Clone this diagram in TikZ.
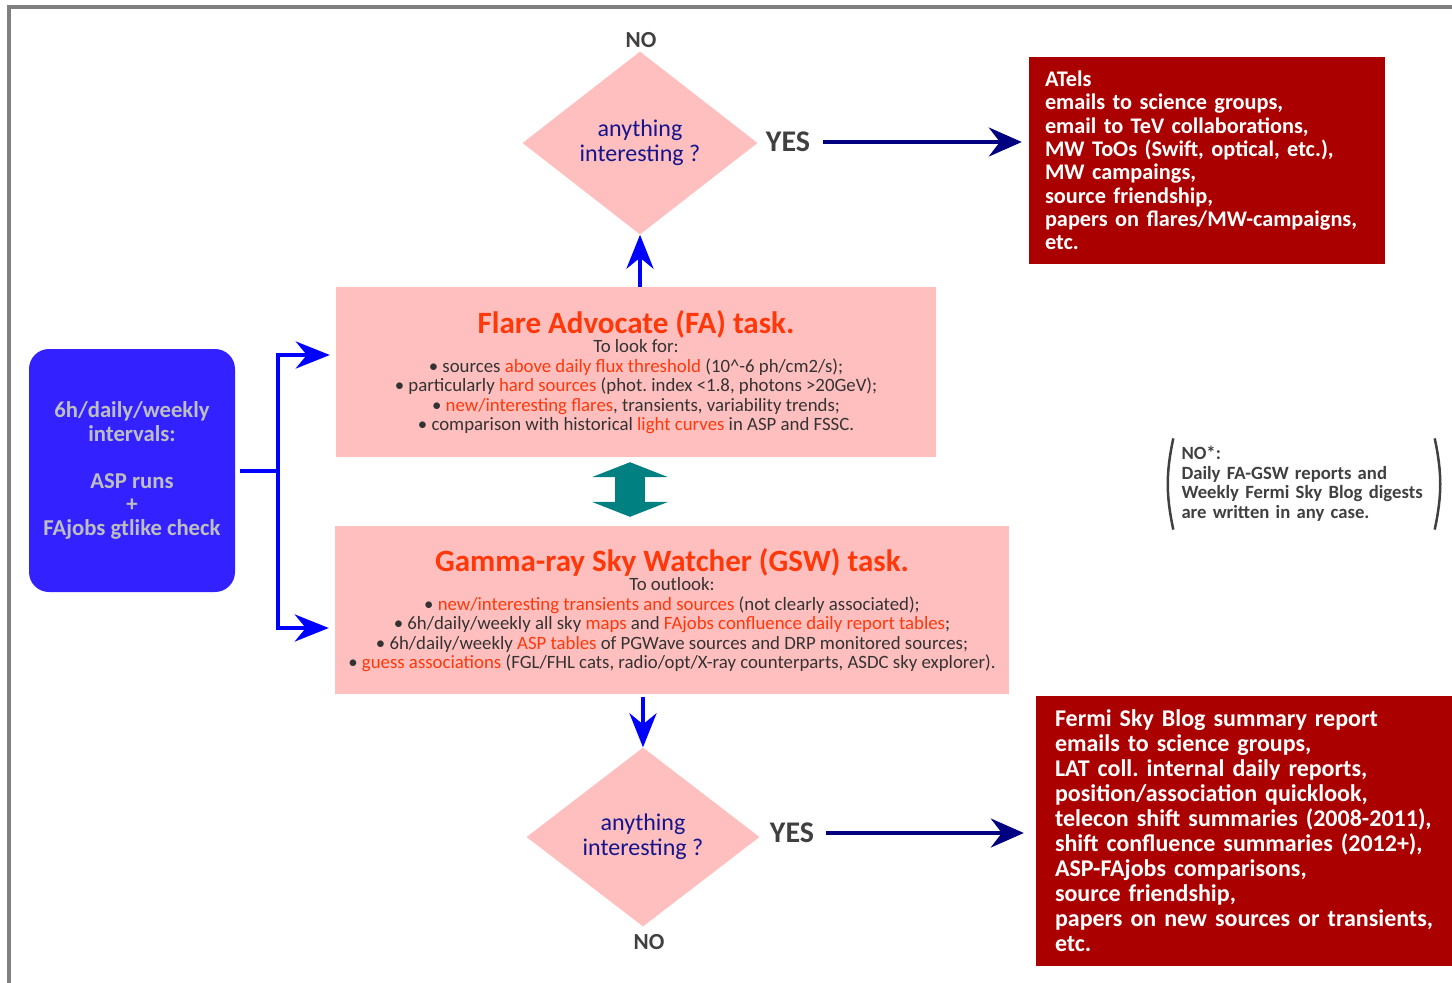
\documentclass[tikz,border=0pt]{standalone}
\usepackage{fontspec}
\setmainfont{Carlito}
\usetikzlibrary{calc, arrows.meta, shapes.geometric}
\definecolor{pinkbox}{RGB}{255,191,191}
\definecolor{hot}{RGB}{255,56,10}
\definecolor{bodygray}{RGB}{51,51,51}
\definecolor{answergray}{RGB}{64,64,64}
\definecolor{navytext}{RGB}{20,20,140}
\definecolor{darkred}{RGB}{170,0,0}
\definecolor{srcblue}{RGB}{51,34,255}
\definecolor{srctext}{RGB}{190,190,190}
\definecolor{flowblue}{RGB}{0,0,255}
\definecolor{yesnavy}{RGB}{0,0,128}
\definecolor{framegray}{RGB}{128,128,128}
\definecolor{swapteal}{RGB}{0,128,128}
\newcommand{\orng}[1]{\textcolor{hot}{#1}}
\frenchspacing

\begin{document}
\begin{tikzpicture}[x=1pt, y=-1pt,
    task/.style={fill=pinkbox, align=center, text=bodygray, inner sep=0pt,
        font=\fontsize{18.8}{19.5}\selectfont},
    decision/.style={diamond, fill=pinkbox, aspect=1.28, inner sep=0pt, align=center,
        text=navytext, font=\fontsize{24}{25}\selectfont},
    outbox/.style={fill=darkred, text=white, align=left, inner ysep=0pt},
    answer/.style={text=answergray, font=\bfseries\fontsize{23}{26}\selectfont},
    flow/.style={draw=flowblue, line width=4pt, -{Stealth[length=34pt, width=27pt, inset=11pt]}},
    yesflow/.style={draw=yesnavy, line width=3.5pt, -{Stealth[length=33pt, width=29pt, inset=11pt]}},
    paren/.style={draw=answergray, line width=2.5pt}
]
\useasboundingbox (0,0) rectangle (1452,983);
% frame
\draw[framegray, line width=3.5pt] (9,983) -- (9,7) -- (1452,7);

% source box
\node[fill=srcblue, rounded corners=20pt, minimum width=206pt, minimum height=243pt,
      text=srctext, align=center, font=\bfseries\fontsize{22.7}{23.5}\selectfont] (src) at (132,470.5)
      {6h/daily/weekly\\intervals:\\[23.5pt]ASP runs\\+\\FAjobs gtlike check};

% tasks
\node[task, minimum width=600pt, minimum height=170pt] (fa) at (636,372)
    {{\bfseries\color{hot}\fontsize{31}{32}\selectfont Flare Advocate (FA) task.}\\
     To look for:\\
     \textbullet\ sources \orng{above daily flux threshold} (10\textasciicircum-6 ph/cm2/s);\\
     \textbullet\ particularly \orng{hard sources} (phot. index <1.8, photons >20GeV);\\
     \textbullet\ \orng{new/interesting flares}, transients, variability trends;\\
     \textbullet\ comparison with historical \orng{light curves} in ASP and FSSC.};
\node[task, minimum width=674pt, minimum height=168pt] (gsw) at (672,610)
    {{\bfseries\color{hot}\fontsize{31}{32}\selectfont Gamma-ray Sky Watcher (GSW) task.}\\
     To outlook:\\
     \textbullet\ \orng{new/interesting transients and sources} (not clearly associated);\\
     \textbullet\ 6h/daily/weekly all sky \orng{maps} and \orng{FAjobs confluence daily report tables};\\
     \textbullet\ 6h/daily/weekly \orng{ASP tables} of PGWave sources and DRP monitored sources;\\
     \textbullet\ \orng{guess associations} (FGL/FHL cats, radio/opt/X-ray counterparts, ASDC sky explorer).};

% decisions
\node[decision, minimum width=235pt, minimum height=183pt] (q1) at (640,143) {anything\\interesting ?};
\node[decision, minimum width=233pt, minimum height=179pt] (q2) at (643,837) {anything\\interesting ?};
\node[answer] (no1) at (641,40) {NO};
\node[answer] (no2) at (649,942) {NO};
\node[answer, font=\bfseries\fontsize{30}{34}\selectfont] (yes1) at (788,142) {YES};
\node[answer, font=\bfseries\fontsize{30}{34}\selectfont] (yes2) at (792,833) {YES};

% outcomes
\node[outbox, minimum width=356pt, minimum height=207pt, inner xsep=16pt, text width=324pt,
      font=\bfseries\fontsize{22.3}{23.3}\selectfont] (atels) at (1207,160.5)
    {ATels\\emails to science groups,\\email to TeV collaborations,\\MW ToOs (Swift, optical, etc.),\\
     MW campaings,\\source friendship,\\papers on flares/MW-campaigns,\\etc.};
\node[outbox, minimum width=433pt, minimum height=270pt, inner xsep=19pt, text width=395pt,
      font=\bfseries\fontsize{24}{25}\selectfont] (fsb) at (1252.5,831)
    {Fermi Sky Blog summary report\\emails to science groups,\\LAT coll. internal daily reports,\\
     position/association quicklook,\\telecon shift summaries (2008-2011),\\
     shift confluence summaries (2012+),\\ASP-FAjobs comparisons,\\source friendship,\\
     papers on new sources or transients,\\etc.};

% note
\node[align=left, text width=245pt, inner xsep=14pt, inner ysep=8pt, text=answergray,
      font=\bfseries\fontsize{18.7}{19.5}\selectfont] (note) at (1304,484)
    {NO*:\\Daily FA-GSW reports and\\Weekly Fermi Sky Blog digests\\are written in any case.};
\draw[paren] ([xshift=6pt]note.north west) to[bend right=12] ([xshift=6pt]note.south west);
\draw[paren] ([xshift=-6pt]note.north east) to[bend left=12] ([xshift=-6pt]note.south east);

% connectors
\draw[flow, shorten <=5pt, shorten >=6pt] (src.east) -- ++(43,0) |- ([yshift=17pt]fa.west);
\draw[flow, shorten <=5pt, shorten >=6pt] (src.east) -- ++(43,0) |- ([yshift=-18pt]gsw.west);
\draw[flow] (q1.south |- fa.north) -- (q1.south);
\draw[flow, shorten <=3pt] (q2.north |- gsw.south) -- (q2.north);
\draw[draw=swapteal, line width=30pt, {Triangle[length=15pt, width=76pt]}-{Triangle[length=15pt, width=76pt]},
      shorten <=5pt, shorten >=9pt] ([xshift=-6pt]fa.south) -- ([xshift=-6pt]fa.south |- gsw.north);
\draw[yesflow, shorten <=9pt, shorten >=7pt] (yes1.east) -- (yes1.east -| atels.west);
\draw[yesflow, shorten <=8pt, shorten >=12pt] (yes2.east) -- (yes2.east -| fsb.west);
\end{tikzpicture}
\end{document}
